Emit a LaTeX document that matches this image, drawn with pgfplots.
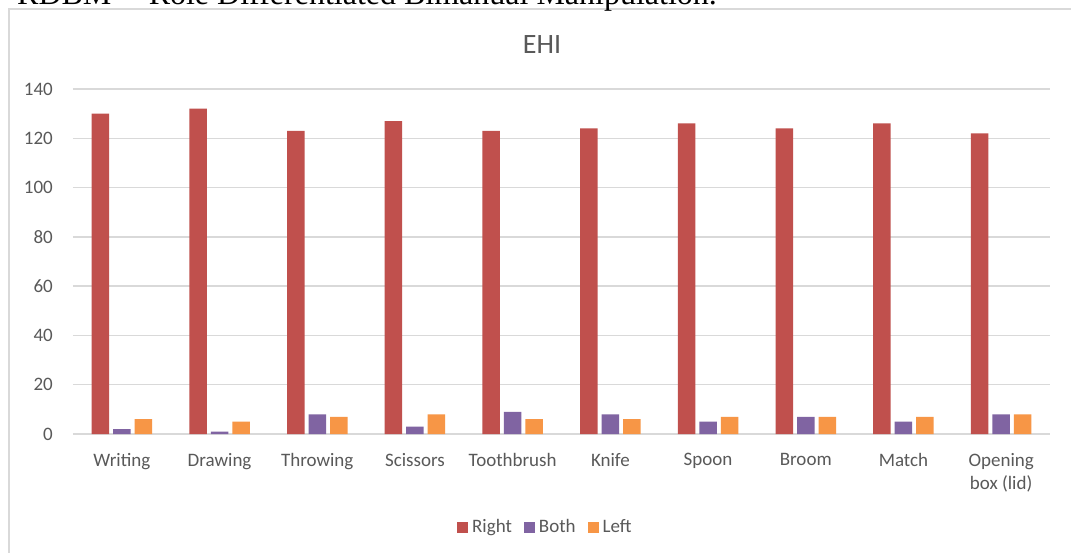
\documentclass[border=0pt]{standalone}
\usepackage{fontspec}
\setmainfont{Carlito}
\newfontfamily\timesfont{Liberation Serif}
\usepackage{pgfplots}
\pgfplotsset{compat=1.18}
\definecolor{cRight}{RGB}{192,80,77}
\definecolor{cBoth}{RGB}{128,100,162}
\definecolor{cLeft}{RGB}{247,150,70}
\definecolor{gridgrey}{RGB}{217,217,217}
\definecolor{txtgrey}{RGB}{89,89,89}
\begin{document}
\begin{tikzpicture}[x=1pt,y=1pt]
\useasboundingbox (0,0) rectangle (1071,552);
\clip (0,0) rectangle (1071,552);
\fill[white] (0,0) rectangle (1071,552);
\draw[gridgrey, line width=2pt] (9,-20) -- (9,543) -- (1090,543);
\node[anchor=base west, inner sep=0pt, font=\timesfont\fontsize{32}{36}\selectfont] at (17,547) {RDBM -- Role Differentiated Bimanual Manipulation.};
\node[anchor=base, inner sep=0pt, text=txtgrey, font=\fontsize{28}{32}\selectfont] at (542,498) {EHI};
\begin{axis}[
  at={(73pt,118pt)}, anchor=south west,
  scale only axis, width=977pt, height=345pt,
  xmin=-0.5, xmax=9.5, ymin=0, ymax=140,
  ytick={0,20,...,140},
  xtick={0,...,9},
  xticklabels={Writing,Drawing,Throwing,Scissors,Toothbrush,Knife,Spoon,Broom,Match,{Opening\\box (lid)}},
  /pgf/number format/assume math mode=true,
  major tick length=0pt,
  axis line style={draw=none},
  ymajorgrids, grid style={gridgrey, line width=1.5pt},
  ybar, bar width=17.5pt,
  tick label style={text=txtgrey, font=\fontsize{19}{23}\selectfont},
  yticklabel style={anchor=east, inner sep=0pt, xshift=-20pt},
  xticklabel style={anchor=north, inner sep=0pt, yshift=-19pt, align=center},
  legend columns=3,
  legend style={draw=none, at={(0.483,-0.27)}, anchor=center, font=\fontsize{19}{23}\selectfont, text=txtgrey,
    /tikz/every odd column/.append style={column sep=3pt},
    /tikz/every even column/.append style={column sep=11pt}, nodes={inner sep=1pt}},
  legend image code/.code={\path[#1] (0pt,-5.5pt) rectangle (11pt,5.5pt);},
]
\addplot[fill=cRight, draw=none, bar shift=-21.5pt] coordinates {(0,130) (1,132) (2,123) (3,127) (4,123) (5,124) (6,126) (7,124) (8,126) (9,122)};
\addplot[fill=cBoth, draw=none, bar shift=0pt] coordinates {(0,2) (1,1) (2,8) (3,3) (4,9) (5,8) (6,5) (7,7) (8,5) (9,8)};
\addplot[fill=cLeft, draw=none, bar shift=21.5pt] coordinates {(0,6) (1,5) (2,7) (3,8) (4,6) (5,6) (6,7) (7,7) (8,7) (9,8)};
\legend{Right,Both,Left}
\end{axis}
\end{tikzpicture}
\end{document}
